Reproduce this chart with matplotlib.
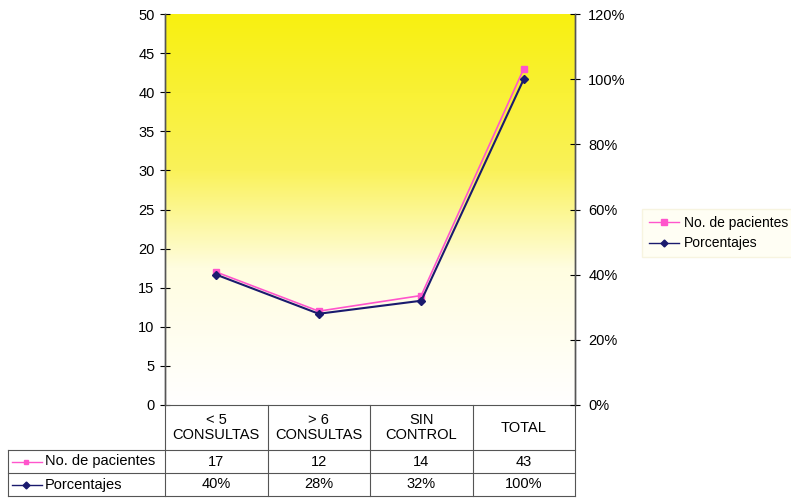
import numpy as np
import matplotlib
matplotlib.use("Agg")
import matplotlib.pyplot as plt
import matplotlib.transforms as mtransforms
from matplotlib.colors import LinearSegmentedColormap
from matplotlib.lines import Line2D

plt.rcParams['font.family'] = ['Liberation Sans', 'DejaVu Sans']
plt.rcParams['font.size'] = 10

categories = ["< 5\nCONSULTAS", "> 6\nCONSULTAS", "SIN\nCONTROL", "TOTAL"]
pacientes = [17, 12, 14, 43]
porcentajes = [40, 28, 32, 100]
row_labels = ["No. de pacientes", "Porcentajes"]
pct_labels = ["40%", "28%", "32%", "100%"]

pink = "#FF55CC"
navy = "#1A1A6E"
edge = "#555555"

fig = plt.figure(figsize=(7.91, 4.99), dpi=100)
ax = fig.add_axes([165 / 791, 1 - 405 / 499, 410 / 791, 391 / 499])

# yellow-to-white background gradient
cmap = LinearSegmentedColormap.from_list(
    "yw", [(0, "white"), (0.35, "#FFFDE0"), (0.6, "#FAF25A"), (1, "#F8F010")])
grad = np.linspace(0, 1, 256).reshape(-1, 1)
ax.imshow(grad, cmap=cmap, aspect="auto", extent=[0, 1, 0, 1],
          transform=ax.transAxes, origin="lower", zorder=0)

x = np.arange(len(categories))
ax.plot(x, pacientes, color=pink, marker="s", markersize=5, lw=1.2, zorder=3)
ax.set_xlim(-0.5, 3.5)
ax.set_ylim(0, 50)
ax.set_yticks(range(0, 51, 5))
ax.set_xticks([])
ax.tick_params(axis="y", direction="inout", length=7, labelsize=10.5, pad=4)

ax2 = ax.twinx()
ax2.plot(x, porcentajes, color=navy, marker="D", markersize=4.5, lw=1.5, zorder=3)
ax2.set_ylim(0, 120)
ax2.set_yticks(range(0, 121, 20))
ax2.set_yticklabels([f"{v}%" for v in range(0, 121, 20)])
ax2.tick_params(axis="y", direction="inout", length=7, labelsize=10.5, pad=6)

for a in (ax, ax2):
    for s in a.spines.values():
        s.set_color(edge)
        s.set_linewidth(1.0)
    a.spines["top"].set_visible(False)
    a.spines["bottom"].set_visible(False)

# data table under the plot: x in data units, y in axes units
tr = mtransforms.blended_transform_factory(ax.transData, ax.transAxes)
h_head = 45 / 391
h_row = 23 / 391
y_head_bot = -h_head
y_rows = [y_head_bot - h_row, y_head_bot - 2 * h_row]
x_lab = -0.5 - 157 / 102.5
lkw = dict(color=edge, lw=0.8, transform=tr, clip_on=False)
tfs = 10.5

# horizontal lines
ax.plot([-0.5, 3.5], [0, 0], **lkw)
ax.plot([x_lab, 3.5], [y_head_bot, y_head_bot], **lkw)
for yb in y_rows:
    ax.plot([x_lab, 3.5], [yb, yb], **lkw)
# vertical lines
for xv in np.arange(-0.5, 4.0, 1.0):
    ax.plot([xv, xv], [0, y_rows[-1]], **lkw)
ax.plot([x_lab, x_lab], [y_head_bot, y_rows[-1]], **lkw)

for i, cat in enumerate(categories):
    ax.text(i, -h_head / 2, cat, ha="center", va="center", transform=tr,
            fontsize=tfs, linespacing=1.1)
    ax.text(i, y_rows[0] + h_row / 2, str(pacientes[i]), ha="center",
            va="center", transform=tr, fontsize=tfs)
    ax.text(i, y_rows[1] + h_row / 2, pct_labels[i], ha="center",
            va="center", transform=tr, fontsize=tfs)

for j, (lab, col, mk) in enumerate(zip(row_labels, [pink, navy], ["s", "D"])):
    yy = y_rows[j] + h_row / 2
    x0 = x_lab + 4 / 102.5
    ax.plot([x0, x0 + 30 / 102.5], [yy, yy], color=col, lw=1.0,
            transform=tr, clip_on=False)
    ax.plot([x0 + 14 / 102.5], [yy], color=col, marker=mk, markersize=3.5,
            transform=tr, clip_on=False)
    ax.text(x_lab + 37 / 102.5, yy, lab, ha="left", va="center",
            transform=tr, fontsize=tfs)

handles = [Line2D([], [], color=pink, marker="s", markersize=4, lw=1.0),
           Line2D([], [], color=navy, marker="D", markersize=3.5, lw=1.0)]
leg = fig.legend(handles, row_labels, loc="center left",
                 bbox_to_anchor=(635 / 791, 1 - 233 / 499), frameon=True,
                 fontsize=10, handlelength=2.2, handletextpad=0.3,
                 borderpad=0.5, labelspacing=0.5)
leg.get_frame().set_facecolor("#FFFEF2")
leg.get_frame().set_edgecolor("#F5F2DA")
leg.get_frame().set_boxstyle("square", pad=0)

fig.savefig("out.png", dpi=100)
